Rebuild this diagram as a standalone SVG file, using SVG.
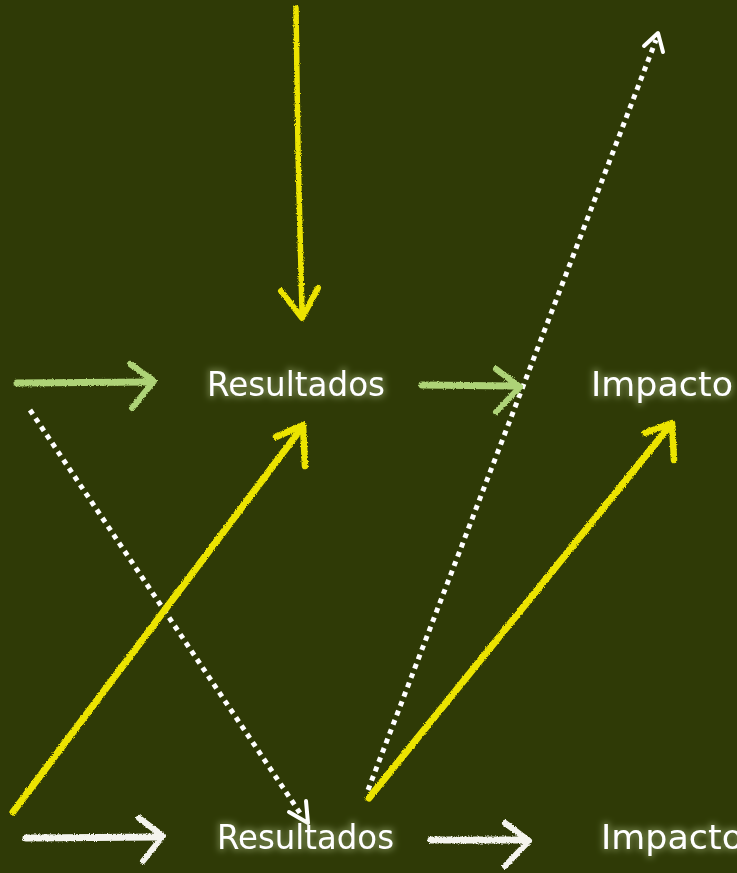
<svg xmlns="http://www.w3.org/2000/svg" width="737" height="873" viewBox="0 0 737 873">
<defs>
<filter id="chalk" filterUnits="userSpaceOnUse" x="0" y="0" width="737" height="873">
<feTurbulence type="fractalNoise" baseFrequency="0.9" numOctaves="2" seed="3" result="n"/>
<feDisplacementMap in="SourceGraphic" in2="n" scale="3" xChannelSelector="R" yChannelSelector="G"/>
</filter>
<filter id="glow" x="-10%" y="-30%" width="120%" height="160%">
<feMorphology in="SourceAlpha" operator="dilate" radius="2" result="d"/>
<feGaussianBlur in="d" stdDeviation="3" result="b"/>
<feFlood flood-color="#c9dca0" flood-opacity="0.35"/>
<feComposite in2="b" operator="in" result="g"/>
<feMerge><feMergeNode in="g"/><feMergeNode in="SourceGraphic"/></feMerge>
</filter>
</defs>
<style>
.lbl{font-family:"DejaVu Sans","Liberation Sans",sans-serif;font-size:33px;fill:#ffffff;filter:url(#glow)}
.y{stroke:#ece400;fill:none;stroke-linecap:round;stroke-linejoin:round;filter:url(#chalk)}
.g{stroke:#aed377;fill:none;stroke-linecap:round;stroke-linejoin:round;filter:url(#chalk)}
.w{stroke:#f4f4ee;fill:none;stroke-linecap:round;stroke-linejoin:round;filter:url(#chalk)}
.dot{stroke:#ffffff;fill:none;stroke-width:5;stroke-dasharray:5 5}
.dh{stroke:#ffffff;fill:none;stroke-width:4;stroke-linecap:round;stroke-linejoin:round}
</style>
<rect width="737" height="873" fill="#2f3a06"/>
<g id="connectors">
<g id="c-top-down">
<path class="y" d="M296,8 L298,150 L302,312" stroke-width="5.5"/>
<path class="y" d="M281,291 L302,318 L318,288" stroke-width="6"/>
</g>
<g id="c-dotted-up">
<line class="dot" x1="368" y1="790" x2="656" y2="40"/>
<path class="dh" d="M644,46 L658,33 L663,52"/>
</g>
<g id="c-dotted-down">
<line class="dot" x1="30" y1="410" x2="302" y2="816"/>
<path class="dh" d="M289,812 L308,823 L306,801"/>
</g>
<g id="c-yellow-1">
<path class="y" d="M13,812 L300,430" stroke-width="7"/>
<path class="y" d="M276,437 L303,425 L305,466" stroke-width="6.5"/>
</g>
<g id="c-yellow-2">
<path class="y" d="M369,798 L668,428" stroke-width="7"/>
<path class="y" d="M645,433 L672,423 L674,460" stroke-width="6.5"/>
</g>
<g id="c-green-1">
<path class="g" d="M17,383 L150,382" stroke-width="7"/>
<path class="g" d="M130,364 L154,381 L132,408" stroke-width="6"/>
</g>
<g id="c-green-2">
<path class="g" d="M422,385 L517,386" stroke-width="7"/>
<path class="g" d="M496,369 L520,387 L496,412" stroke-width="6"/>
</g>
<g id="c-white-1">
<path class="w" d="M26,838 L160,837" stroke-width="7"/>
<path class="w" d="M139,818 L163,836 L143,861" stroke-width="6"/>
</g>
<g id="c-white-2">
<path class="w" d="M431,840 L527,840" stroke-width="7"/>
<path class="w" d="M505,823 L529,841 L505,866" stroke-width="6"/>
</g>
</g>
<g id="n-resultados-1"><text class="lbl" x="207" y="396" textLength="178" lengthAdjust="spacingAndGlyphs">Resultados</text></g>
<g id="n-impacto-1"><text class="lbl" x="591" y="396" textLength="142" lengthAdjust="spacingAndGlyphs">Impacto</text></g>
<g id="n-resultados-2"><text class="lbl" x="217" y="849" textLength="177" lengthAdjust="spacingAndGlyphs">Resultados</text></g>
<g id="n-impacto-2"><text class="lbl" x="601" y="849" textLength="142" lengthAdjust="spacingAndGlyphs">Impacto</text></g>
</svg>
